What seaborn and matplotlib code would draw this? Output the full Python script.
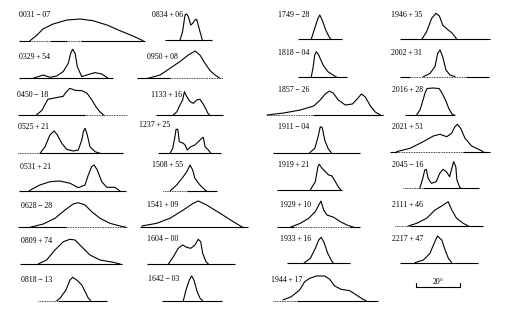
import matplotlib
matplotlib.use("Agg")
import matplotlib.pyplot as plt
import seaborn as sns

# ---------------- data: pulse longitude (deg) and relative intensity ----------------
LON_0031_07 = [5.0, 8.2, 10.9, 15.5, 21.8, 27.7, 33.6, 40.0, 45.9, 51.8, 56.4]
INT_0031_07 = [0, 5.7, 11.7, 16.7, 20.7, 21.7, 20, 15.7, 10, 4.7, 0]
LON_0329_54 = [6.4, 11.0, 14.1, 17.1, 20.1, 22.4, 23.5, 24.4, 25.5, 26.5, 28.5, 30.8, 34.5, 37.6, 40.6]
INT_0329_54 = [0, 3.3, 1, 2.3, 6.7, 15, 25, 29, 25, 11.7, 1.7, 3.3, 5.7, 4.3, 0]
LON_0450_18 = [8.2, 10.9, 12.3, 13.6, 15.9, 18.2, 20.5, 21.8, 23.6, 25.9, 29.1, 31.4, 33.6, 35.5, 37.3, 39.1]
INT_0450_18 = [0, 5, 11, 16, 17, 18, 19, 23, 27, 25, 24.6, 22, 15.3, 8.3, 3.3, 0]
LON_0525_21 = [10.0, 12.3, 14.5, 16.4, 17.9, 19.9, 22.1, 25.1, 27.4, 29.0, 29.7, 30.5, 31.5, 32.7, 35.0, 37.3]
INT_0525_21 = [0, 6.6, 18.3, 22.3, 18.3, 10, 4, 2.3, 3.3, 13.3, 21.6, 25, 18.3, 6.6, 1.6, 0]
LON_0531_21 = [4.5, 5.8, 9.5, 14.1, 18.6, 23.2, 27.0, 30.0, 31.5, 33.0, 34.1, 35.6, 37.6, 39.9, 43.6, 45.9]
INT_0531_21 = [0, 1.7, 6, 9.3, 10, 7.7, 3.3, 6, 16, 24.3, 26, 21, 9.3, 3.7, 3.7, 0]
LON_0628_28 = [5.5, 11.5, 16.8, 21.4, 25.1, 27.4, 30.5, 33.5, 37.3, 41.8, 46.4, 49.1]
INT_0628_28 = [0, 3.3, 9, 17.3, 23.3, 24.6, 22.3, 15.6, 9, 4, 1.3, 0]
LON_0809_74 = [8.3, 12.1, 15.9, 19.7, 22.7, 25.0, 28.0, 31.8, 36.4, 42.4, 45.5]
INT_0809_74 = [0, 4, 14, 22.3, 24.7, 24, 17.3, 9, 4, 1.7, 0]
LON_0818_13 = [8.5, 10.0, 12.7, 14.5, 15.8, 17.6, 19.9, 21.4, 22.9, 24.0]
INT_0818_13 = [0, 2.4, 10.7, 20.7, 23.4, 20.7, 15.7, 9, 2.4, 0]

LON_0834_06 = [6.8, 8.0, 9.1, 9.9, 10.6, 11.7, 12.6, 13.6, 14.4, 15.1, 15.9, 17.0]
INT_0834_06 = [0, 8.7, 25.3, 26.3, 23.7, 15.3, 17, 20.3, 21, 15.3, 8.7, 0]
LON_0950_08 = [5.0, 10.5, 15.0, 19.5, 23.3, 26.4, 28.6, 30.9, 33.2, 35.5, 37.7]
INT_0950_08 = [0, 3.3, 10, 16.7, 23.3, 27.3, 23.3, 15, 7.7, 3.3, 0]
LON_1133_16 = [7.7, 9.5, 10.9, 12.1, 12.9, 14.0, 15.5, 17.0, 18.5, 20.0, 21.5, 22.5, 23.6, 24.5]
INT_1133_16 = [0, 3.6, 10.3, 15.3, 23.6, 18.6, 13.6, 12, 15.3, 16, 11, 7, 2, 0]
LON_1237_25 = [5.5, 6.7, 7.7, 8.2, 9.0, 9.7, 10.8, 11.5, 12.3, 13.3, 14.9, 16.8, 18.3, 19.9, 20.6, 21.4, 22.9, 24.0]
INT_1237_25 = [0, 5, 16.6, 24, 24, 11.6, 10.6, 10, 8.3, 3.3, 6.6, 8.3, 11.6, 15, 16, 6.6, 3.3, 0]
LON_1508_55 = [3.2, 6.2, 9.2, 10.8, 12.3, 13.5, 14.5, 16.8, 19.1, 19.9]
INT_1508_55 = [0, 6, 14.3, 19.3, 26, 21, 12.7, 6, 1, 0]
LON_1541_09 = [0.8, 7.6, 13.6, 19.7, 24.2, 26.5, 30.3, 36.4, 42.4, 46.7]
INT_1541_09 = [1.3, 4, 9, 17.3, 24, 26.3, 22.3, 14, 5.6, 0]
LON_1604_00 = [9.7, 12.0, 14.2, 16.2, 18.0, 19.9, 21.8, 23.3, 24.4, 25.3, 26.8, 27.9]
INT_1604_00 = [0, 7.3, 15.7, 19, 16.7, 15.7, 19, 24.7, 22.3, 10.7, 2.3, 0]
LON_1642_03 = [9.7, 10.9, 12.4, 13.5, 14.5, 16.0, 17.3, 18.5]
INT_1642_03 = [0, 10.7, 20.7, 24.7, 20.7, 9, 2.4, 0]

LON_1749_28 = [6.0, 7.6, 9.1, 9.9, 11.0, 12.6, 14.1, 15.1]
INT_1749_28 = [0, 11, 21, 24.3, 19.3, 9.3, 2.6, 0]
LON_1818_04 = [6.0, 6.8, 7.6, 8.3, 9.4, 11.4, 13.6, 15.9, 17.7]
INT_1818_04 = [0, 9, 22.3, 25.6, 22.3, 12.3, 5.6, 2.3, 0]
LON_1857_26 = [0, 7.6, 15.1, 21.2, 24.2, 26.5, 28.3, 30.1, 32.4, 35.6, 38.8, 41.0, 42.9, 44.7, 47.0, 49.2, 51.5]
INT_1857_26 = [0, 2, 5, 9, 15, 21, 24, 22, 15, 10, 11, 16, 21, 18, 9, 3, 0]
LON_1911_04 = [16.7, 19.0, 20.5, 21.5, 22.4, 23.5, 25.0, 26.5]
INT_1911_04 = [0, 4.4, 16, 26, 25, 12.7, 4.4, 0]
LON_1919_21 = [15.1, 17.4, 18.6, 19.2, 20.5, 22.0, 23.5, 25.0, 26.5, 28.0, 29.1]
INT_1919_21 = [0, 8.3, 23.3, 25.7, 21.7, 18.3, 15, 14, 8.3, 2.7, 0]
LON_1929_10 = [6.0, 10.6, 14.4, 17.4, 19.0, 20.0, 21.2, 22.7, 25.8, 28.8, 31.8, 34.9]
INT_1929_10 = [0, 4, 9, 15.6, 22.3, 26.3, 17.3, 12.3, 10, 5.6, 2.3, 0]
LON_1933_16 = [7.6, 10.6, 12.9, 14.4, 15.5, 16.7, 18.5, 20.5, 21.2]
INT_1933_16 = [0, 5, 15, 23.3, 26, 21.6, 10, 1.6, 0]
LON_1944_17 = [4.5, 8.3, 12.1, 14.4, 16.7, 19.7, 23.5, 25.8, 28.0, 31.0, 34.9, 37.9, 40.9, 42.4]
INT_1944_17 = [0.7, 4, 10.7, 19, 22.4, 24.7, 24.7, 21.4, 14.7, 11.4, 10, 5.7, 1.4, 0]

LON_1946_35 = [9.9, 12.1, 14.4, 16.4, 17.9, 19.4, 21.5, 23.5, 25.0, 25.8]
INT_1946_35 = [0, 7.6, 21, 26, 23.3, 14.3, 10, 6.6, 2.6, 0]
LON_2002_31 = [10.6, 13.6, 15.9, 17.1, 18.2, 19.4, 20.9, 22.7, 25.0]
INT_2002_31 = [0, 3.3, 10, 23.3, 26.7, 20, 6.7, 1.7, 0]
LON_2016_28 = [5.3, 6.8, 8.2, 9.1, 10.0, 12.7, 15.5, 16.8, 18.6, 20.0, 21.4, 22.3]
INT_2016_28 = [0, 5, 15, 22, 26.5, 27, 26.5, 22, 14, 6, 1, 0]
LON_2021_51 = [3.0, 9.1, 15.1, 19.7, 22.7, 25.8, 28.0, 29.5, 30.6, 32.1, 34.1, 37.1, 40.9, 42.4]
INT_2021_51 = [0, 3.4, 10, 15.7, 17.4, 15, 18.4, 25, 27.4, 23.4, 13.4, 5.7, 1.7, 0]
LON_2045_16 = [7.6, 8.8, 9.9, 10.6, 11.4, 12.9, 15.1, 16.7, 18.2, 19.7, 21.2, 22.4, 23.0, 24.0, 24.5, 25.8, 26.5]
INT_2045_16 = [0, 8.3, 18.3, 19, 10, 5, 6.6, 15, 19, 16.6, 11.6, 21.6, 26.6, 21.6, 8.3, 1, 0]
LON_2111_46 = [6.0, 9.9, 14.4, 18.2, 21.2, 24.2, 25.8, 28.0, 31.0, 33.3]
INT_2111_46 = [0, 2.7, 7.7, 16, 20, 24.3, 16, 7.7, 2.7, 0]
LON_2217_47 = [6.8, 10.6, 13.6, 15.5, 17.0, 19.0, 20.5, 22.0, 23.5]
INT_2217_47 = [0, 2.7, 9.3, 19.3, 26.7, 22.7, 12.7, 4.4, 0]

SCALE_DEG = 20
SCALE_LABEL = "20°"

PROFILES = [
    ("0031 − 07", LON_0031_07, INT_0031_07),
    ("0329 + 54", LON_0329_54, INT_0329_54),
    ("0450 − 18", LON_0450_18, INT_0450_18),
    ("0525 + 21", LON_0525_21, INT_0525_21),
    ("0531 + 21", LON_0531_21, INT_0531_21),
    ("0628 − 28", LON_0628_28, INT_0628_28),
    ("0809 + 74", LON_0809_74, INT_0809_74),
    ("0818 − 13", LON_0818_13, INT_0818_13),
    ("0834 + 06", LON_0834_06, INT_0834_06),
    ("0950 + 08", LON_0950_08, INT_0950_08),
    ("1133 + 16", LON_1133_16, INT_1133_16),
    ("1237 + 25", LON_1237_25, INT_1237_25),
    ("1508 + 55", LON_1508_55, INT_1508_55),
    ("1541 + 09", LON_1541_09, INT_1541_09),
    ("1604 − 00", LON_1604_00, INT_1604_00),
    ("1642 − 03", LON_1642_03, INT_1642_03),
    ("1749 − 28", LON_1749_28, INT_1749_28),
    ("1818 − 04", LON_1818_04, INT_1818_04),
    ("1857 − 26", LON_1857_26, INT_1857_26),
    ("1911 − 04", LON_1911_04, INT_1911_04),
    ("1919 + 21", LON_1919_21, INT_1919_21),
    ("1929 + 10", LON_1929_10, INT_1929_10),
    ("1933 + 16", LON_1933_16, INT_1933_16),
    ("1944 + 17", LON_1944_17, INT_1944_17),
    ("1946 + 35", LON_1946_35, INT_1946_35),
    ("2002 + 31", LON_2002_31, INT_2002_31),
    ("2016 + 28", LON_2016_28, INT_2016_28),
    ("2021 + 51", LON_2021_51, INT_2021_51),
    ("2045 − 16", LON_2045_16, INT_2045_16),
    ("2111 + 46", LON_2111_46, INT_2111_46),
    ("2217 + 47", LON_2217_47, INT_2217_47),
]

# ---------------- layout (pixels): baseline left x, baseline y, baseline length (deg), label x, label y
LAYOUT = [
    (19, 40.7, 57.3, 19, 15), (19, 78.3, 42.7, 19, 57), (18, 115.3, 49.5, 17, 95),
    (18, 153.3, 47.7, 18, 127), (19, 191, 48.6, 20, 167), (18, 227.3, 49.5, 21, 206),
    (20, 264, 46.4, 21, 241), (38, 300.7, 31.4, 21, 280),
    (165, 40.3, 21.4, 152, 15), (137, 78.3, 39.1, 147, 57), (156, 115.3, 30.5, 151, 95),
    (158, 153.3, 28.6, 139, 125), (163, 191, 24.5, 152, 165), (140, 227.3, 49.1, 147, 205),
    (147, 264, 40.0, 147, 239), (162, 300.7, 27.3, 148, 279),
    (298, 39.3, 20.0, 278, 15), (298, 77.3, 22.3, 278, 53), (267, 115, 52.7, 278, 90),
    (273, 152.7, 39.5, 278, 127), (277, 190, 29.5, 278, 165), (277, 227.3, 37.7, 280, 205),
    (287, 263.3, 28.6, 280, 239), (273, 300.7, 47.7, 271, 280),
    (400, 39.3, 40.9, 391, 15), (400, 76.7, 40.5, 391, 53), (405, 115, 22.7, 392, 90),
    (390, 151.7, 45.5, 392, 127), (403, 188.3, 34.5, 392, 165), (395, 226, 40.0, 392, 205),
    (400, 262.7, 35.5, 392, 239),
]
# dotted stretches of each baseline (deg from its left end), style only
DOTTED = [
    [(5, 14), (22, 28)], [], [(30.5, 49.5)], [(0, 10)], [], [(22, 49.5)], [], [(0, 9)],
    [], [(15, 39.1)], [], [], [(0, 11)], [], [], [],
    [], [], [(0, 21)], [], [], [(7.5, 33)], [], [(0, 11)],
    [], [(4.5, 30)], [], [(3, 33)], [(0, 9)], [(0, 7)], [],
]
SCALE_POS = (416, 287)

W, H = 507, 328
PX_PER_DEG = 2.2
PANEL_H = 30
LW = 0.8

sns.set_theme(style="white")
plt.rcParams["font.family"] = ["Liberation Serif", "DejaVu Serif"]

fig = plt.figure(figsize=(W / 100, H / 100), dpi=100)
fig.patch.set_facecolor("white")


def solid_parts(length, dotted):
    parts, start = [], 0.0
    for a, b in sorted(dotted):
        if a > start:
            parts.append((start, a))
        start = max(start, b)
    if start < length:
        parts.append((start, length))
    return parts


for (name, lon, inten), (x0, y0, length, lx, ly), dots in zip(PROFILES, LAYOUT, DOTTED):
    ax = fig.add_axes([x0 / W, (H - y0) / H, length * PX_PER_DEG / W, PANEL_H / H])
    sns.lineplot(x=lon, y=inten, ax=ax, color="black", lw=LW, sort=False, estimator=None)
    for a, b in solid_parts(length, dots):
        ax.hlines(0, a, b, color="black", lw=LW, clip_on=False)
    for a, b in dots:
        ax.hlines(0, a, b, color="black", lw=0.6, linestyles=(0, (1, 1)), clip_on=False)
    ax.set_xlim(0, length)
    ax.set_ylim(0, PANEL_H)
    for ln in ax.lines:
        ln.set_clip_on(False)
    ax.set_axis_off()
    fig.text(lx / W, 1 - ly / H, name.replace(" ", "\u2009"), ha="left", va="center",
             fontsize=5.7, color="black")

# scale bar
sx, sy = SCALE_POS
sax = fig.add_axes([sx / W, (H - sy) / H, SCALE_DEG * PX_PER_DEG / W, 6 / H])
sax.set_xlim(0, SCALE_DEG)
sax.set_ylim(0, 6)
sax.axhline(0, color="black", lw=LW)
sax.axvline(0, ymin=0, ymax=0.6, color="black", lw=LW)
sax.axvline(SCALE_DEG, ymin=0, ymax=0.6, color="black", lw=LW)
for ln in sax.lines:
    ln.set_clip_on(False)
sax.set_axis_off()
fig.text((sx + SCALE_DEG * PX_PER_DEG / 2) / W, 1 - (sy - 5) / H, SCALE_LABEL,
         ha="center", va="center", fontsize=5.7, color="black")

fig.savefig("out.png", dpi=100, facecolor="white")
